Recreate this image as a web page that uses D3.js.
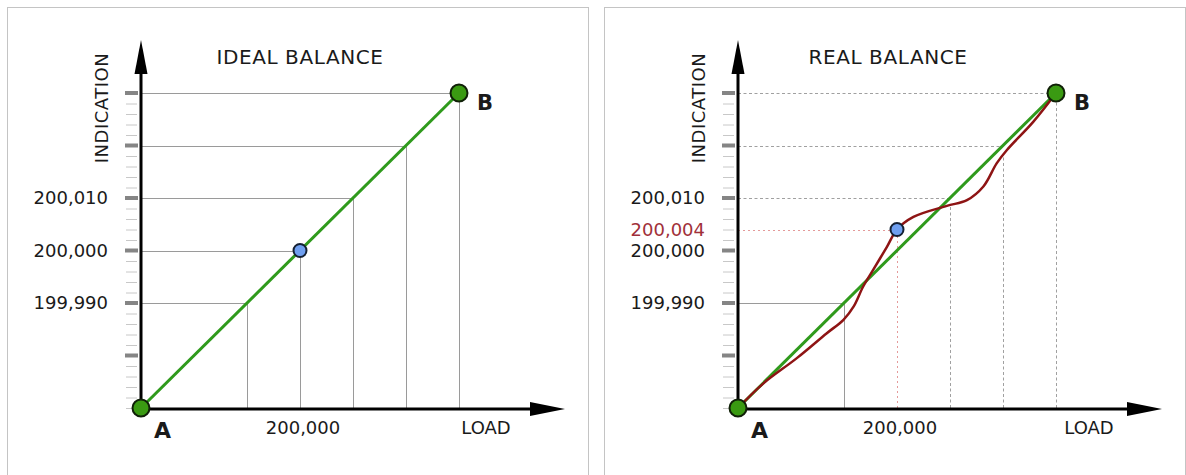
<!DOCTYPE html>
<html>
<head>
<meta charset="utf-8">
<script src="https://cdn.jsdelivr.net/npm/d3@7"></script>
<style>
  html, body { margin: 0; padding: 0; background: #fff; }
  svg { display: block; }
  text { font-family: "DejaVu Sans", Verdana, sans-serif; fill: #1a1a1a; }
</style>
</head>
<body>
<svg id="chart" width="1186" height="475"></svg>
<script>
// ---------------- data ----------------
const panelTitles = ["IDEAL BALANCE", "REAL BALANCE"];
const axisDomain = [199970, 200030];              // load & indication range (A .. B)
const gridValues = [199990, 200000, 200010, 200020, 200030];
const yTickLabelValues = [199990, 200000, 200010];
const yTickLabels = ["199,990", "200,000", "200,010"];
const xTickLabelValue = 200000;
const xTickLabel = "200,000";
const minorTickValues = d3.range(0, 31).map(i => 199970 + i * 2);
const majorTickValues = [199980, 199990, 200000, 200010, 200020, 200030];
const idealLoad = [199970, 200030];
const idealIndication = [199970, 200030];
const realLoad = [199970, 199974.8, 199981.1, 199986.7, 199989.9, 199991.8, 199993.6, 199995.5, 199998.1, 200000, 200003.1, 200009.4, 200013.2, 200016.3, 200018.8, 200020.7, 200025.7, 200030];
const realIndication = [199970, 199974.7, 199979.5, 199984.2, 199986.8, 199989.3, 199993.1, 199996.3, 200000.7, 200004, 200006.4, 200008.5, 200009.6, 200012.2, 200016.6, 200019.1, 200024.5, 200030];
const measuredLoad = 200000;
const measuredIndication = 200004;
const measuredLabel = "200,004";

// ---------------- drawing ----------------
const svg = d3.select("#chart");
const GREEN = "#2f9a1c", RED = "#8e1414", PINK = "#e49a9a";

function interpReal(x) {
  for (let i = 1; i < realLoad.length; i++) {
    if (x <= realLoad[i]) {
      const t = (x - realLoad[i - 1]) / (realLoad[i] - realLoad[i - 1]);
      return realIndication[i - 1] + t * (realIndication[i] - realIndication[i - 1]);
    }
  }
  return realIndication[realIndication.length - 1];
}

function drawPanel(ox, idx) {
  const real = idx === 1;
  const g = svg.append("g");
  // panel border
  g.append("rect").attr("x", ox + 7.5).attr("y", 7.5)
    .attr("width", 581).attr("height", 480)
    .attr("fill", "none").attr("stroke", "#c4c4c4").attr("stroke-width", 1);

  const x = d3.scaleLinear().domain(axisDomain).range([ox + 141, ox + 459]);
  const y = d3.scaleLinear().domain(axisDomain).range([408, 93]);
  const x0 = x(axisDomain[0]), y0 = y(axisDomain[0]);

  // ticks on y axis
  g.selectAll(".minor").data(minorTickValues).join("line")
    .attr("x1", ox + 126).attr("x2", ox + 137)
    .attr("y1", d => y(d) + 0.5).attr("y2", d => y(d) + 0.5)
    .attr("stroke", "#c8c8c8").attr("stroke-width", 1);
  g.selectAll(".major").data(majorTickValues).join("line")
    .attr("x1", ox + 125).attr("x2", ox + 138)
    .attr("y1", d => y(d)).attr("y2", d => y(d))
    .attr("stroke", "#858585").attr("stroke-width", 4);

  // guide lines
  const solid = { stroke: "#9a9a9a", dash: null };
  const dashed = { stroke: "#a0a0a0", dash: "3,2.5" };
  gridValues.forEach(v => {
    const isMeasured = v === measuredLoad;
    let st = (!real || v === 199990) ? solid : dashed;
    if (!(real && isMeasured)) {
      g.append("line").attr("x1", x0).attr("x2", x(v))
        .attr("y1", Math.round(y(v)) + 0.5).attr("y2", Math.round(y(v)) + 0.5)
        .attr("stroke", st.stroke).attr("stroke-width", 1)
        .attr("stroke-dasharray", st.dash);
    }
    let top = real ? (v === 199990 ? y(v) : y(interpReal(v))) : y(v);
    if (real && isMeasured) {
      g.append("line").attr("x1", Math.round(x(v)) + 0.5).attr("x2", Math.round(x(v)) + 0.5)
        .attr("y1", y0).attr("y2", y(measuredIndication))
        .attr("stroke", PINK).attr("stroke-width", 1).attr("stroke-dasharray", "2,3");
    } else {
      g.append("line").attr("x1", Math.round(x(v)) + 0.5).attr("x2", Math.round(x(v)) + 0.5)
        .attr("y1", y0).attr("y2", top)
        .attr("stroke", st.stroke).attr("stroke-width", 1)
        .attr("stroke-dasharray", st.dash);
    }
  });
  if (real) {
    g.append("line").attr("x1", x0).attr("x2", x(measuredLoad))
      .attr("y1", Math.round(y(measuredIndication)) + 0.5).attr("y2", Math.round(y(measuredIndication)) + 0.5)
      .attr("stroke", PINK).attr("stroke-width", 1).attr("stroke-dasharray", "2,3");
  }

  // axes
  g.append("line").attr("x1", x0).attr("x2", ox + 535).attr("y1", y0 + 1).attr("y2", y0 + 1)
    .attr("stroke", "#000").attr("stroke-width", 3);
  g.append("path").attr("d", `M${ox + 530},${y0 - 6} L${ox + 565},${y0 + 1} L${ox + 530},${y0 + 8} Z`).attr("fill", "#000");
  g.append("line").attr("x1", x0).attr("x2", x0).attr("y1", y0).attr("y2", 70)
    .attr("stroke", "#000").attr("stroke-width", 3);
  g.append("path").attr("d", `M${x0 - 6.5},${74} L${x0},${40} L${x0 + 6.5},${74} Z`).attr("fill", "#000");

  // ideal line
  const line = d3.line().x(d => x(d[0])).y(d => y(d[1]));
  g.append("path").datum(d3.zip(idealLoad, idealIndication)).attr("d", line)
    .attr("fill", "none").attr("stroke", GREEN).attr("stroke-width", 3);

  // real curve
  if (real) {
    const curve = d3.line().x(d => x(d[0])).y(d => y(d[1])).curve(d3.curveCatmullRom.alpha(0.5));
    g.append("path").datum(d3.zip(realLoad, realIndication)).attr("d", curve)
      .attr("fill", "none").attr("stroke", RED).attr("stroke-width", 2.5);
  }

  // measured point
  const my = real ? measuredIndication : measuredLoad;
  g.append("circle").attr("cx", x(measuredLoad)).attr("cy", y(my)).attr("r", 6.5)
    .attr("fill", "#6f9ff0").attr("stroke", "#142033").attr("stroke-width", 2);

  // A and B
  [[idealLoad[0], idealIndication[0]], [idealLoad[1], idealIndication[1]]].forEach(p => {
    g.append("circle").attr("cx", x(p[0])).attr("cy", y(p[1])).attr("r", 8.5)
      .attr("fill", "#3a9a12").attr("stroke", "#102008").attr("stroke-width", 2);
  });
  g.append("text").attr("x", x0 + 13).attr("y", 438).attr("font-size", 22).attr("font-weight", "bold").text("A");
  g.append("text").attr("x", x(idealLoad[1]) + 18).attr("y", 110).attr("font-size", 21).attr("font-weight", "bold").text("B");

  // labels
  g.append("text").attr("x", idx === 0 ? 300 : 888).attr("y", 64).attr("text-anchor", "middle")
    .attr("font-size", 20).attr("letter-spacing", 0.6).text(panelTitles[idx]);
  g.append("text").attr("transform", `translate(${ox + 108},${108}) rotate(-90)`)
    .attr("text-anchor", "middle").attr("font-size", 18).attr("letter-spacing", 0.5).text("INDICATION");
  yTickLabelValues.forEach((v, i) => {
    g.append("text").attr("x", ox + 108).attr("y", y(v)).attr("dy", "0.36em")
      .attr("text-anchor", "end").attr("font-size", 18).text(yTickLabels[i]);
  });
  if (real) {
    g.append("text").attr("x", ox + 108).attr("y", y(measuredIndication)).attr("dy", "0.36em")
      .attr("text-anchor", "end").attr("font-size", 18).style("fill", "#a1303a").text(measuredLabel);
  }
  g.append("text").attr("x", x(xTickLabelValue) + 3).attr("y", 434).attr("text-anchor", "middle")
    .attr("font-size", 18).text(xTickLabel);
  g.append("text").attr("x", idx === 0 ? 486 : 1089).attr("y", 434).attr("text-anchor", "middle")
    .attr("font-size", 18).text("LOAD");
}

drawPanel(0, 0);
drawPanel(597, 1);
</script>
</body>
</html>
